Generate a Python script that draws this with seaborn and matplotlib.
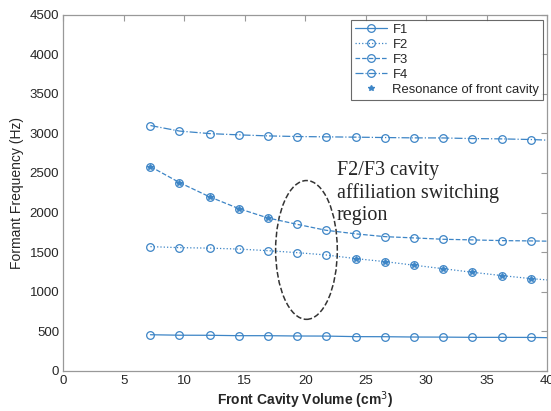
import numpy as np
import matplotlib.pyplot as plt
import pandas as pd
import seaborn as sns
from matplotlib.patches import Ellipse

# values (last point sits on the right border, no marker)
volume = [7.2, 9.6, 12.1, 14.5, 16.9, 19.3, 21.7, 24.2, 26.6, 29.0, 31.4, 33.8, 36.3, 38.7, 40.0]
f1 = [455, 449, 448, 443, 443, 439, 438, 431, 430, 426, 425, 422, 422, 421, 418]
f2 = [1569, 1556, 1550, 1538, 1518, 1493, 1464, 1417, 1379, 1334, 1290, 1245, 1202, 1164, 1148]
f3 = [2581, 2379, 2198, 2050, 1932, 1852, 1776, 1730, 1695, 1679, 1662, 1654, 1645, 1641, 1638]
f4 = [3100, 3030, 2998, 2982, 2969, 2961, 2957, 2953, 2948, 2944, 2943, 2935, 2931, 2923, 2915]

# which points are the front cavity resonance
res_f3 = [0, 1, 2, 3, 4]
res_f2 = [7, 8, 9, 10, 11, 12, 13]

blue = '#3d85c6'

sns.set_style('white')
plt.rcParams['font.family'] = ['Liberation Sans', 'DejaVu Sans']

fig = plt.figure(figsize=(5.51, 4.11), dpi=100)
ax = fig.add_axes([0.115, 0.098, 0.878, 0.866])

df = pd.DataFrame({'volume': volume, 'F1': f1, 'F2': f2, 'F3': f3, 'F4': f4})
styles = {'F1': '-', 'F2': ':', 'F3': '--', 'F4': '-.'}
for name, ls in styles.items():
    sns.lineplot(data=df, x='volume', y=name, ax=ax, color=blue, linestyle=ls,
                 linewidth=0.9, marker='o', markersize=5.5, markerfacecolor='none',
                 markeredgecolor=blue, markeredgewidth=0.9,
                 markevery=list(range(len(volume) - 1)), label=name)

res_x = [volume[i] for i in res_f3] + [volume[i] for i in res_f2]
res_y = [f3[i] for i in res_f3] + [f2[i] for i in res_f2]
ax.plot(res_x, res_y, linestyle='none', marker='*', markersize=4, color=blue,
        label='Resonance of front cavity')

ax.add_patch(Ellipse((20.1, 1527), 5.1, 1755, fill=False, edgecolor='#333333',
                     linestyle='--', linewidth=1.1))
ax.text(22.6, 2650, 'F2/F3 cavity\naffiliation switching\nregion', family='Liberation Serif',
        fontsize=14.5, va='top', ha='left', linespacing=1.2)

ax.set_xlim(0, 40)
ax.set_ylim(0, 4500)
ax.set_xticks(np.arange(0, 41, 5))
ax.set_yticks(np.arange(0, 4501, 500))
ax.tick_params(direction='in', top=True, right=True, length=4, width=0.8,
               color='#999999', labelsize=9.5, pad=3)
for s in ax.spines.values():
    s.set_color('#999999')
    s.set_linewidth(0.9)
ax.set_xlabel('Front Cavity Volume (cm$^3$)', fontsize=10, fontweight='bold', labelpad=2)
ax.set_ylabel('Formant Frequency (Hz)', fontsize=10, labelpad=4)

h, l = ax.get_legend_handles_labels()
leg = ax.legend(h, l, loc='upper right', bbox_to_anchor=(0.992, 0.986), borderaxespad=0,
                fontsize=9.4, frameon=True, fancybox=False, edgecolor='#444444',
                handlelength=2.5, labelspacing=0.22, borderpad=0.3, handletextpad=0.4)
leg.get_frame().set_linewidth(0.8)

fig.savefig('out.png', dpi=100)
